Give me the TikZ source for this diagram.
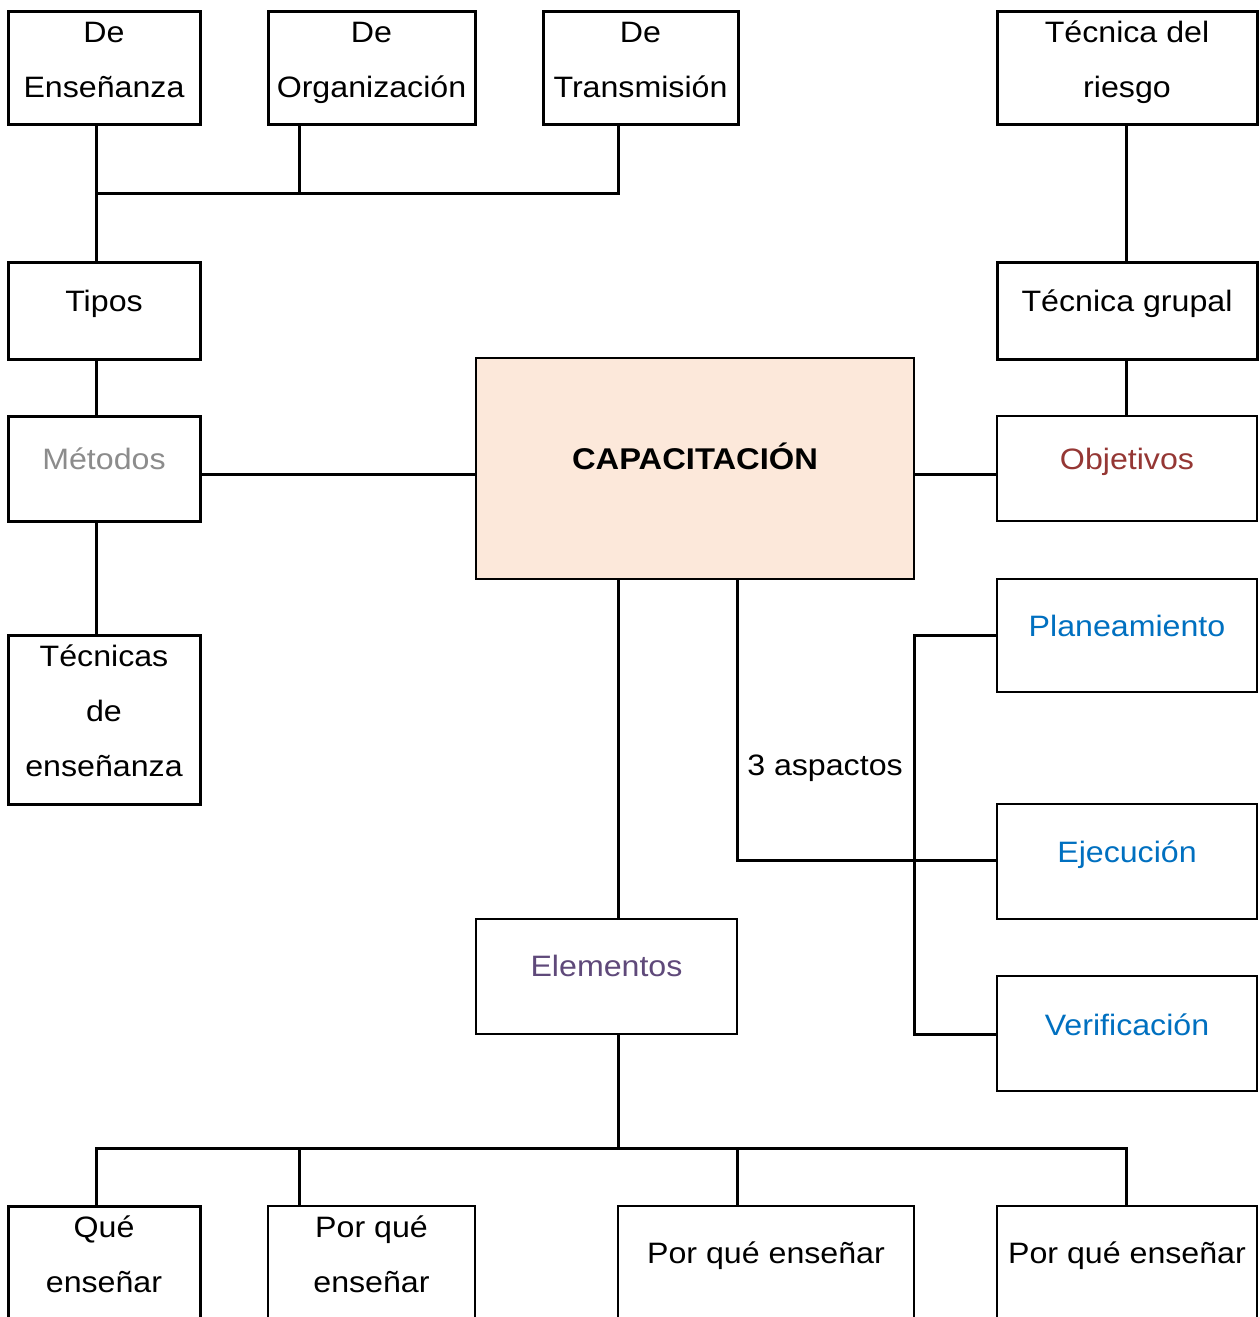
\documentclass[tikz,border=0pt]{standalone}
\usepackage{fontspec}
\setmainfont[FakeStretch=1.09]{Liberation Sans}
\definecolor{capfill}{RGB}{252,232,218}
\definecolor{metgray}{RGB}{140,140,140}
\definecolor{objred}{RGB}{149,55,52}
\definecolor{stepblue}{RGB}{0,112,192}
\definecolor{elepurple}{RGB}{95,73,122}
\begin{document}
\begin{tikzpicture}[x=1pt,y=-1pt,
  box/.style={draw=black,line width=3pt,inner sep=0pt,minimum width=#1},
  thinbox/.style={draw=black,line width=2.2pt,inner sep=0pt,minimum width=#1},
  txt/.style={font=\fontsize{29.5}{55}\selectfont,align=center,inner sep=0pt,text=black,
    execute at begin node={\rule{0pt}{28pt}},
    execute at end node={\rule[-8pt]{0pt}{8pt}}},
  conn/.style={line width=3pt,line cap=rect}]
\useasboundingbox (0,0) rectangle (1259,1317);
\clip (0,0) rectangle (1259,1317);
\fill[white] (0,0) rectangle (1259,1317);

% top row
\node[box=192, minimum height=113] (ens) at (104,67.5) {};
\node[txt] (ens-t) at (104,63.5) {De\\Enseñanza};
\node[box=207, minimum height=113] (org) at (371.5,67.5) {};
\node[txt] (org-t) at (371.5,63.5) {De\\Organización};
\node[box=195, minimum height=113] (tra) at (640.5,67.5) {};
\node[txt] (tra-t) at (640.5,63.5) {De\\Transmisión};
\node[box=260, minimum height=113] (rie) at (1127,67.5) {};
\node[txt] (rie-t) at (1127,63.5) {Técnica del\\riesgo};

% second row
\node[box=192, minimum height=97] (tipos) at (104,310.5) {};
\node[txt] (tipos-t) at (104,301) {Tipos};
\node[box=260, minimum height=97] (grupal) at (1127,310.5) {};
\node[txt] (grupal-t) at (1127,301) {Técnica grupal};

% middle row
\node[box=192, minimum height=105] (met) at (104,468.5) {};
\node[txt,text=metgray] (met-t) at (104,459) {Métodos};
\node[draw=black,line width=2.2pt,fill=capfill,inner sep=0pt,minimum width=438,minimum height=221] (cap) at (695,468.5) {};
\node[txt,font=\fontsize{30}{55}\selectfont\bfseries] (cap-t) at (695,459) {CAPACITACIÓN};
\node[thinbox=260, minimum height=105] (obj) at (1127,468.5) {};
\node[txt,text=objred] (obj-t) at (1127,459) {Objetivos};

% left lower
\node[box=192, minimum height=169] (tec) at (104,719.5) {};
\node[txt] (tec-t) at (104,714.5) {Técnicas\\de\\enseñanza};

% right column
\node[thinbox=260, minimum height=113] (plan) at (1127,635.5) {};
\node[txt,text=stepblue] (plan-t) at (1127,626) {Planeamiento};
\node[thinbox=260, minimum height=115] (eje) at (1127,861.5) {};
\node[txt,text=stepblue] (eje-t) at (1127,852) {Ejecución};
\node[thinbox=260, minimum height=115] (ver) at (1127,1033.5) {};
\node[txt,text=stepblue] (ver-t) at (1127,1025) {Verificación};

% elementos
\node[thinbox=261, minimum height=115] (ele) at (606.5,976.5) {};
\node[txt,text=elepurple] (ele-t) at (606.5,966) {Elementos};

\node[txt] (asp) at (825,765) {3 aspactos};

% bottom row
\node[box=192, minimum height=113] (que) at (104,1262.5) {};
\node[txt] (que-t) at (104,1258) {Qué\\enseñar};
\node[thinbox=207, minimum height=113] (pq2) at (371.5,1262.5) {};
\node[txt] (pq2-t) at (371.5,1258) {Por qué\\enseñar};
\node[thinbox=296, minimum height=113] (pq3) at (766,1262.5) {};
\node[txt] (pq3-t) at (766,1253) {Por qué enseñar};
\node[thinbox=260, minimum height=113] (pq4) at (1127,1262.5) {};
\node[txt] (pq4-t) at (1127,1253) {Por qué enseñar};

% junction coordinates
\coordinate (ja) at (96,193);
\coordinate (jb) at (299,193);
\coordinate (jc) at (618,193);
\coordinate (hy) at (0,474);
\coordinate (jd) at (737,860);
\coordinate (kp) at (914,635);
\coordinate (kv) at (914,1034);
\coordinate (ba) at (96,1148);
\coordinate (bb) at (299,1148);
\coordinate (bc) at (618,1148);
\coordinate (bd) at (737,1148);
\coordinate (be) at (1126,1148);

% connectors top
\draw[conn] (ens.south -| ja) -- (ja) -- (tipos.north -| ja);
\draw[conn] (org.south -| jb) -- (jb);
\draw[conn] (tra.south -| jc) -- (jc);
\draw[conn] (ja) -- (jc);
\draw[conn] (tipos.south -| ja) -- (met.north -| ja);
\draw[conn] (met.south -| ja) -- (tec.north -| ja);
\draw[conn] (met.east |- hy) -- (cap.west |- hy);
\draw[conn] (cap.east |- hy) -- (obj.west |- hy);
\draw[conn] (rie.south -| be) -- (grupal.north -| be);
\draw[conn] (grupal.south -| be) -- (obj.north -| be);

% connectors from capacitacion
\draw[conn] (cap.south -| jc) -- (ele.north -| jc);
\draw[conn,line cap=butt] (cap.south -| jd) -- (jd) -- (eje.west |- jd);
\draw[conn,line cap=butt] (plan.west |- kp) -- (kp) -- (kv) -- (ver.west |- kv);

% bottom tree
\draw[conn] (ele.south -| bc) -- (bc);
\draw[conn] (ba) -- (be);
\draw[conn] (ba) -- (que.north -| ba);
\draw[conn] (bb) -- (pq2.north -| bb);
\draw[conn] (bd) -- (pq3.north -| bd);
\draw[conn] (be) -- (pq4.north -| be);
\end{tikzpicture}
\end{document}
